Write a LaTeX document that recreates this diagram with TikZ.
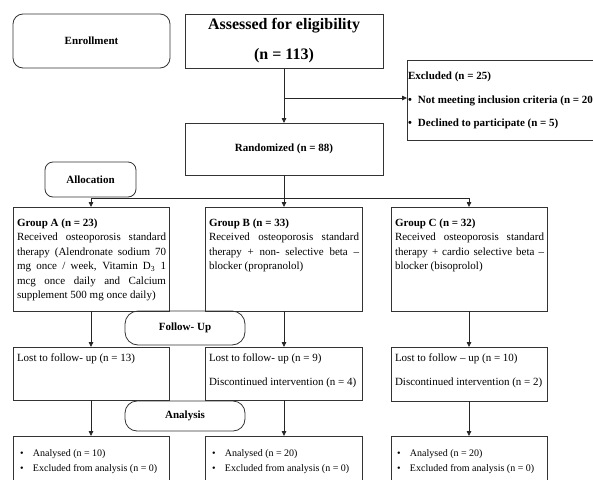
\documentclass[tikz,border=0pt]{standalone}
\usepackage{fontspec}
\setmainfont{Liberation Serif}
\usetikzlibrary{arrows.meta}
\begin{document}
\begin{tikzpicture}[x=1pt,y=-1pt,
  box/.style={draw=black!80, line width=0.8pt, anchor=north west, inner sep=0pt, outer sep=0pt,
    font=\fontsize{11}{14.5}\selectfont\bfseries, align=center},
  rbox/.style={box, rounded corners=#1},
  txt/.style={anchor=base west, inner sep=0pt, outer sep=0pt, font=\fontsize{11}{14.5}\selectfont},
  btxt/.style={txt, font=\fontsize{11}{14.5}\selectfont\bfseries},
  stxt/.style={txt, font=\fontsize{10}{15}\selectfont},
  arr/.style={draw=black!85, line width=0.8pt, -{Triangle[length=5pt,width=4.5pt]}},
]
\useasboundingbox (0,0) rectangle (593,479);
\clip (0,0) rectangle (593,479);

% boxes
\node[rbox=10pt, minimum width=157pt, minimum height=54pt] (enroll) at (13,14) {Enrollment};
\node[box, minimum width=198pt, minimum height=54pt, font=\fontsize{16}{19}\selectfont\bfseries] (assess) at (185,14) {Assessed for eligibility\\[11pt](n = 113)};
\node[box, minimum width=200pt, minimum height=80pt] (excl) at (407,60) {};
\node[box, minimum width=198pt, minimum height=52pt] (rand) at (185,123) {Randomized (n = 88)};
\node[rbox=8pt, minimum width=91pt, minimum height=35pt] (alloc) at (45,162) {Allocation};

\node[box, minimum width=156pt, minimum height=104pt] (gA) at (13,207) {};
\node[box, minimum width=157pt, minimum height=104pt] (gB) at (205.5,207) {};
\node[box, minimum width=156pt, minimum height=104pt] (gC) at (391,207) {};

\node[rbox=13pt, minimum width=120pt, minimum height=34pt] (follow) at (125,311) {Follow- Up};

\node[box, minimum width=156pt, minimum height=53pt] (lA) at (13,347) {};
\node[box, minimum width=157pt, minimum height=53pt] (lB) at (205.5,347) {};
\node[box, minimum width=156pt, minimum height=54pt] (lC) at (391,347) {};

\node[rbox=12pt, minimum width=120pt, minimum height=30pt] (analysis) at (125,401) {Analysis};

\node[box, minimum width=156pt, minimum height=60pt] (aA) at (13,436) {};
\node[box, minimum width=157pt, minimum height=60pt] (aB) at (205.5,436) {};
\node[box, minimum width=156pt, minimum height=60pt] (aC) at (391,436) {};

% texts
\node[btxt] (exclt) at (408,79) {\parbox[t]{220pt}{Excluded (n = 25)\\[9.5pt]
  \makebox[10pt][l]{\textbullet}Not meeting inclusion criteria (n = 20\\[8.5pt]
  \makebox[10pt][l]{\textbullet}Declined to participate (n = 5)}};

\node[txt] (gAt) at (17,226) {\parbox[t]{149pt}{\textbf{Group A (n = 23)}\\
  \makebox[149pt][s]{Received osteoporosis standard}\\
  \makebox[149pt][s]{therapy (Alendronate sodium 70}\\
  \makebox[149pt][s]{mg once / week, Vitamin D\textsubscript{3} 1}\\
  \makebox[149pt][s]{mcg once daily and Calcium}\\
  supplement 500 mg once daily)}};
\node[txt] (gBt) at (209,226) {\parbox[t]{150pt}{\textbf{Group B (n = 33)}\\
  \makebox[150pt][s]{Received osteoporosis standard}\\
  \makebox[150pt][s]{therapy + non- selective beta –}\\
  blocker (propranolol)}};
\node[txt] (gCt) at (395,226) {\parbox[t]{149pt}{\textbf{Group C (n = 32)}\\
  \makebox[149pt][s]{Received osteoporosis standard}\\
  \makebox[149pt][s]{therapy + cardio selective beta –}\\
  blocker (bisoprolol)}};

\node[txt] (lAt) at (17,361) {Lost to follow- up (n = 13)};
\node[txt] (lBt) at (209,361) {\parbox[t]{150pt}{Lost to follow- up (n = 9)\\[9.5pt]
  Discontinued intervention (n = 4)}};
\node[txt] (lCt) at (395,361) {\parbox[t]{150pt}{Lost to follow – up (n = 10)\\[9.5pt]
  Discontinued intervention (n = 2)}};

\node[stxt] (aAt) at (20,456) {\parbox[t]{150pt}{\makebox[13pt][l]{\textbullet}Analysed (n = 10)\\
  \makebox[13pt][l]{\textbullet}Excluded from analysis (n = 0)}};
\node[stxt] (aBt) at (212,456) {\parbox[t]{150pt}{\makebox[13pt][l]{\textbullet}Analysed (n = 20)\\
  \makebox[13pt][l]{\textbullet}Excluded from analysis (n = 0)}};
\node[stxt] (aCt) at (397,456) {\parbox[t]{150pt}{\makebox[13pt][l]{\textbullet}Analysed (n = 20)\\
  \makebox[13pt][l]{\textbullet}Excluded from analysis (n = 0)}};

% connectors
\coordinate (exsplit) at (284,98);
\coordinate (split) at (284,198);
\draw[arr] (assess.south) -- (rand.north);
\draw[arr] (exsplit) -- (exsplit -| excl.west);
\draw[arr] (rand.south) -- (gB.north);
\draw[arr] (split) -| (gA.north);
\draw[arr] (split) -| (gC.north);
\draw[arr] (gA.south) -- (lA.north);
\draw[arr] (gB.south) -- (lB.north);
\draw[arr] (gC.south) -- (lC.north);
\draw[arr] (lA.south) -- (aA.north);
\draw[arr] (lB.south) -- (aB.north);
\draw[arr] (lC.south) -- (aC.north);
\end{tikzpicture}
\end{document}
